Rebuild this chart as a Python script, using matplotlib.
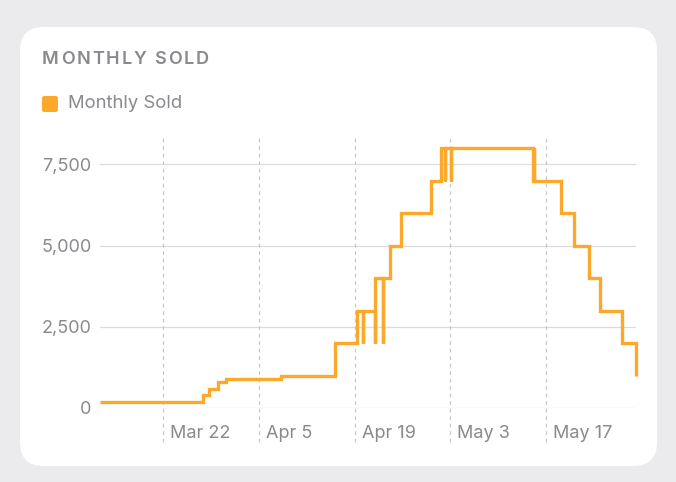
import matplotlib
matplotlib.use("Agg")
import matplotlib.pyplot as plt
import matplotlib.transforms as mtransforms
from matplotlib.patches import FancyBboxPatch
import pandas as pd

# step points (timestamp, units sold); short spikes come from near-duplicate records
times = [
    "2024-03-12 18:00", "2024-03-27 20:00", "2024-03-28 17:30", "2024-03-29 23:00",
    "2024-03-31 04:00", "2024-04-08 04:00", "2024-04-16 03:00", "2024-04-19 07:00",
    "2024-04-20 04:00", "2024-04-20 05:00", "2024-04-21 23:00", "2024-04-22 00:00",
    "2024-04-23 02:00", "2024-04-23 03:00", "2024-04-24 02:00", "2024-04-25 19:00",
    "2024-04-30 04:00", "2024-05-01 14:00", "2024-05-02 05:00", "2024-05-02 06:00",
    "2024-05-03 01:00", "2024-05-03 02:00", "2024-05-15 02:30", "2024-05-15 04:00",
    "2024-05-15 05:00", "2024-05-19 04:00", "2024-05-19 06:00", "2024-05-21 02:00",
    "2024-05-21 03:30", "2024-05-23 04:30", "2024-05-24 21:30", "2024-05-28 02:00",
    "2024-05-30 03:00",
]
sold = [
    200, 400, 600, 800,
    900, 1000, 2000, 3000,
    2000, 3000, 2000, 4000,
    2000, 4000, 5000, 6000,
    7000, 8000, 7000, 8000,
    7000, 8000, 7000, 8000,
    7000, 6000, 6000, 5000,
    5000, 4000, 3000, 2000,
    1000,
]
tick_dates = ["2024-03-22", "2024-04-05", "2024-04-19", "2024-05-03", "2024-05-17"]
tick_labels = ["Mar 22", "Apr 5", "Apr 19", "May 3", "May 17"]
y_ticks = [0, 2500, 5000, 7500]
y_labels = ["0", "2,500", "5,000", "7,500"]
title = "MONTHLY SOLD"
series_name = "Monthly Sold"

ORANGE = "#FBA82B"
GREY_TXT = "#8A8A8E"

plt.rcParams["font.family"] = ["Inter", "DejaVu Sans"]

W, H = 676, 482
fig = plt.figure(figsize=(W / 100, H / 100), dpi=100)
fig.patch.set_facecolor("#EBEBEE")

card = FancyBboxPatch((20 / W, 1 - 466 / H), 637 / W, 439 / H,
                      boxstyle="round,pad=0,rounding_size=0.035",
                      transform=fig.transFigure, facecolor="white",
                      edgecolor="none", mutation_aspect=W / H, zorder=-5)
fig.patches.append(card)

# title with letter tracking, drawn glyph by glyph
renderer = fig.canvas.get_renderer()
xpos = 42.0
for ch in title:
    t = fig.text(xpos / W, 1 - 60 / H, ch, fontsize=13, fontweight="semibold",
                 color=GREY_TXT, va="center")
    if ch == " ":
        xpos += 6
    else:
        xpos += t.get_window_extent(renderer).width + 1.9

leg = FancyBboxPatch((42 / W, 1 - 112 / H), 16 / W, 16 / H,
                     boxstyle="round,pad=0,rounding_size=0.004",
                     transform=fig.transFigure, facecolor=ORANGE,
                     edgecolor="none")
fig.patches.append(leg)
fig.text(68 / W, 1 - 103 / H, series_name, fontsize=13.3,
         color=GREY_TXT, va="center")

ax = fig.add_axes([100 / W, 1 - 408 / H, 536 / W, 272 / H])
ax.set_facecolor("none")
ax.set_zorder(2)

x = pd.to_datetime(times)
ax.step(x, sold, where="post", color=ORANGE, linewidth=2.4,
        solid_joinstyle="miter", solid_capstyle="butt", clip_on=False, zorder=3)

ax.set_xlim(x[0], x[-1])
ax.set_ylim(0, 8370)

for s in ax.spines.values():
    s.set_visible(False)

for v in y_ticks:
    ax.axhline(v, color="#DCDCDF", linewidth=0.9, zorder=1)
for d in pd.to_datetime(tick_dates):
    ax.axvline(d, ymin=-0.125, ymax=1, color="#C8C8CC", linewidth=0.9,
               linestyle=(0, (3, 3)), clip_on=False, zorder=1)

ax.set_yticks(y_ticks)
ax.set_yticklabels(y_labels)
ax.set_xticks(pd.to_datetime(tick_dates))
ax.set_xticklabels(tick_labels)
ax.tick_params(axis="both", length=0, labelsize=13, labelcolor=GREY_TXT)
ax.tick_params(axis="y", pad=6)
ax.tick_params(axis="x", pad=12)
offset = mtransforms.ScaledTranslation(7 / 100, 0, fig.dpi_scale_trans)
for lab in ax.get_xticklabels():
    lab.set_horizontalalignment("left")
    lab.set_transform(lab.get_transform() + offset)

fig.savefig("out.png", dpi=100, facecolor=fig.get_facecolor())
